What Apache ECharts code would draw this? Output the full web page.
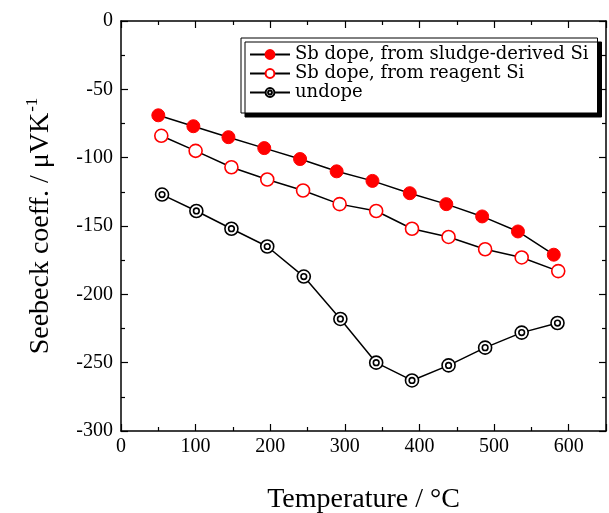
<!DOCTYPE html>
<html>
<head>
<meta charset="utf-8">
<script src="https://cdn.jsdelivr.net/npm/echarts@6/dist/echarts.min.js"></script>
<style>
  html, body { margin: 0; padding: 0; background: #fff; }
  #echart { width: 609px; height: 513px; }
</style>
</head>
<body>
<div id="echart"></div>
<script>
var myChart = echarts.init(document.getElementById("echart"));

// values
var tempSludge = [50, 97, 144, 192, 240, 289, 337, 387, 436, 484, 532, 580];
var seebeckSludge = [-69, -77, -85, -93, -101, -110, -117, -126, -134, -143, -154, -171];
var tempReagent = [54, 100, 148, 196, 244, 293, 342, 390, 439, 488, 537, 586];
var seebeckReagent = [-84, -95, -107, -116, -124, -134, -139, -152, -158, -167, -173, -183];
var tempUndope = [55, 101, 148, 196, 245, 294, 342, 390, 439, 488, 537, 585];
var seebeckUndope = [-127, -139, -152, -165, -187, -218, -250, -263, -252, -239, -228, -221];
var seriesNames = ['Sb dope, from sludge-derived Si', 'Sb dope, from reagent Si', 'undope'];

function pairs(xs, ys) {
	var out = [];
	for (var i = 0; i < xs.length; i++) out.push([xs[i], ys[i]]);
	return out;
}

var serif = '"Liberation Serif", "Times New Roman", serif';
var ringSymbol = 'path://M12,6A6,6,0,1,1,0,6A6,6,0,1,1,12,6ZM8.6,6A2.6,2.6,0,1,1,3.4,6A2.6,2.6,0,1,1,8.6,6Z';

var axisCommon = {
	axisLine: { show: true, onZero: false, lineStyle: { color: '#000', width: 1.5 } },
	axisTick: { show: true, inside: true, length: 7, lineStyle: { color: '#000', width: 1.2 } },
	minorTick: { show: true, splitNumber: 2, length: 4, lineStyle: { color: '#000', width: 1.2 } },
	splitLine: { show: false }
};

option = {
	animation: false,
	grid: { left: 121, top: 21, right: 3, bottom: 82, containLabel: false, outerBoundsMode: 'none' },
	legend: {
		orient: 'vertical',
		left: 241,
		top: 38,
		padding: [7, 9, 11, 8],
		itemGap: 0,
		itemWidth: 40,
		itemHeight: 11,
		backgroundColor: '#fff',
		borderColor: '#000',
		borderWidth: 1,
		shadowColor: '#000',
		shadowOffsetX: 4,
		shadowOffsetY: 4,
		shadowBlur: 0,
		textStyle: { fontFamily: '"DejaVu Serif", serif', fontSize: 18, lineHeight: 19, color: '#000' },
		data: seriesNames
	},
	xAxis: [
		Object.assign({}, axisCommon, {
			type: 'value', min: 0, max: 650, interval: 100, position: 'bottom',
			name: 'Temperature / °C', nameLocation: 'middle', nameGap: 55,
			nameTextStyle: { fontFamily: serif, fontSize: 28, color: '#000' },
			axisLabel: { fontFamily: serif, fontSize: 20, color: '#000', margin: 6, showMaxLabel: false,
				formatter: function (v) { return v % 100 === 0 ? v : ''; } }
		}),
		Object.assign({}, axisCommon, {
			type: 'value', min: 0, max: 650, interval: 100, position: 'top',
			axisLabel: { show: false }
		})
	],
	yAxis: [
		Object.assign({}, axisCommon, {
			type: 'value', min: -300, max: 0, interval: 50, position: 'left',
			name: '{a|Seebeck coeff. / μVK}{s|-1}', nameLocation: 'middle', nameGap: 64, nameRotate: 90,
			nameTextStyle: {
				rich: {
					a: { fontFamily: serif, fontSize: 28, color: '#000' },
					s: { fontFamily: serif, fontSize: 17, color: '#000', padding: [0, 0, 16, 1] }
				}
			},
			axisLabel: { fontFamily: serif, fontSize: 20, color: '#000', margin: 8 }
		}),
		Object.assign({}, axisCommon, {
			type: 'value', min: -300, max: 0, interval: 50, position: 'right',
			axisLabel: { show: false }
		})
	],
	series: [
		{
			name: seriesNames[0], type: 'line', data: pairs(tempSludge, seebeckSludge),
			symbol: 'circle', symbolSize: 13,
			itemStyle: { color: '#ff0000', borderColor: '#ff0000', borderWidth: 1 },
			lineStyle: { color: '#000', width: 1.5 }, z: 3
		},
		{
			name: seriesNames[1], type: 'line', data: pairs(tempReagent, seebeckReagent),
			symbol: 'circle', symbolSize: 13,
			itemStyle: { color: '#fff', borderColor: '#ff0000', borderWidth: 1.6 },
			lineStyle: { color: '#000', width: 1.5 }, z: 3
		},
		{
			name: seriesNames[2], type: 'line', data: pairs(tempUndope, seebeckUndope),
			symbol: ringSymbol, symbolSize: 13,
			itemStyle: { color: '#fff', borderColor: '#000', borderWidth: 1.6 },
			lineStyle: { color: '#000', width: 1.5 }, z: 3
		}
	]
};

myChart.setOption(option);
</script>
</body>
</html>
